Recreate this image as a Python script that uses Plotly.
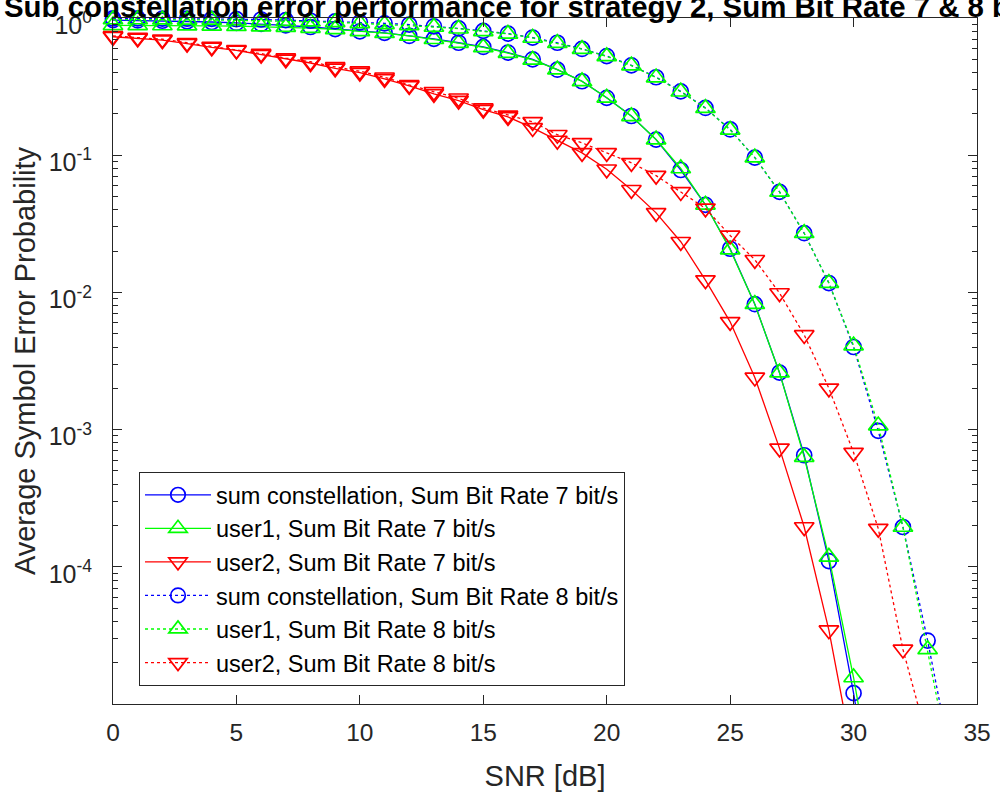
import plotly.graph_objects as go

# ---------------- data ----------------
snr7 = list(range(0, 32))
snr8 = list(range(0, 35))

sum7 = [0.965, 0.96, 0.955, 0.945, 0.935, 0.92, 0.905, 0.885, 0.86, 0.83,
        0.80, 0.78, 0.74, 0.705, 0.66, 0.615, 0.56, 0.50, 0.42, 0.346,
        0.262, 0.193, 0.13, 0.078, 0.0435, 0.0208, 0.0082, 0.0026, 0.00065, 1.1e-4,
        1.2e-5, 1.0e-6]
user1_7 = [0.885, 0.885, 0.882, 0.88, 0.877, 0.872, 0.866, 0.858, 0.845, 0.826,
           0.80, 0.775, 0.74, 0.70, 0.657, 0.61, 0.555, 0.495, 0.42, 0.345,
           0.262, 0.192, 0.13, 0.08, 0.0435, 0.0205, 0.0082, 0.0026, 0.00063, 1.18e-4,
           1.56e-5, 1.5e-6]
user2_7 = [0.73, 0.71, 0.69, 0.65, 0.61, 0.58, 0.54, 0.50, 0.47, 0.43,
           0.40, 0.36, 0.32, 0.28, 0.25, 0.215, 0.19, 0.158, 0.128, 0.104,
           0.079, 0.056, 0.038, 0.0234, 0.0123, 0.0061, 0.0024, 7.3e-4, 1.95e-4, 3.45e-5,
           3.9e-6, 3.0e-7]

sum8 = [0.995, 0.993, 0.99, 0.988, 0.985, 0.98, 0.975, 0.965, 0.955, 0.945,
        0.93, 0.915, 0.895, 0.87, 0.84, 0.805, 0.77, 0.72, 0.66, 0.595,
        0.528, 0.452, 0.37, 0.292, 0.221, 0.154, 0.096, 0.054, 0.027, 0.0117,
        0.0040, 0.00098, 1.95e-4, 2.9e-5, 3.5e-6]
user1_8 = [0.975, 0.975, 0.972, 0.97, 0.968, 0.962, 0.955, 0.948, 0.94, 0.93,
           0.915, 0.90, 0.885, 0.86, 0.835, 0.80, 0.765, 0.715, 0.655, 0.593,
           0.525, 0.45, 0.368, 0.29, 0.22, 0.153, 0.096, 0.054, 0.027, 0.0117,
           0.0041, 0.00107, 1.95e-4, 2.5e-5, 3.0e-6]
user2_8 = [0.74, 0.72, 0.70, 0.66, 0.62, 0.585, 0.55, 0.51, 0.48, 0.44,
           0.41, 0.37, 0.325, 0.29, 0.26, 0.22, 0.195, 0.175, 0.141, 0.123,
           0.104, 0.088, 0.071, 0.054, 0.041, 0.026, 0.0173, 0.0099, 0.0049, 0.0020,
           6.8e-4, 1.9e-4, 2.5e-5, 5.4e-6, 5e-7]

names = [
    "sum constellation, Sum Bit Rate 7 bit/s",
    "user1, Sum Bit Rate 7 bit/s",
    "user2, Sum Bit Rate 7 bit/s",
    "sum constellation, Sum Bit Rate 8 bit/s",
    "user1, Sum Bit Rate 8 bit/s",
    "user2, Sum Bit Rate 8 bit/s",
]
y_tick_vals = [1e-4, 1e-3, 1e-2, 1e-1, 1]
y_tick_text = ["10<sup>-4</sup>", "10<sup>-3</sup>", "10<sup>-2</sup>", "10<sup>-1</sup>", "10<sup>0</sup>"]
x_tick_vals = [0, 5, 10, 15, 20, 25, 30, 35]

title_text = "Sub constellation error performance for strategy 2, Sum Bit Rate 7 & 8 bit/s"

# ---------------- figure ----------------
FONT = "Liberation Sans, Arial, Helvetica, sans-serif"
AX = "#262626"
Y_MIN_LOG, Y_MAX_LOG = -5, 0
y_floor = 10 ** Y_MIN_LOG

series = [
    (snr7, sum7, names[0], "#0000FF", "solid", "circle-open", 15),
    (snr7, user1_7, names[1], "#00FF00", "solid", "triangle-up-open", 17),
    (snr7, user2_7, names[2], "#FF0000", "solid", "triangle-down-open", 17),
    (snr8, sum8, names[3], "#0000FF", "dot", "circle-open", 15),
    (snr8, user1_8, names[4], "#00FF00", "dot", "triangle-up-open", 17),
    (snr8, user2_8, names[5], "#FF0000", "dot", "triangle-down-open", 17),
]

fig = go.Figure()
for xs, ys, nm, col, dash, sym, sz in series:
    # markers may overhang the frame (as in the original), but points below the
    # axis floor get no marker; the line itself is clipped by the plot area
    sizes = [sz if v >= y_floor else 0 for v in ys]
    fig.add_trace(go.Scatter(
        x=xs, y=ys, name=nm, mode="lines+markers", cliponaxis=False,
        line=dict(color=col, width=1.3, dash=dash),
        marker=dict(symbol=sym, size=sizes, opacity=1, color=col,
                    line=dict(color=col, width=1.7)),
    ))

fig.update_layout(
    width=1000, height=792,
    margin=dict(l=113, r=23, t=18, b=88, autoexpand=False),
    paper_bgcolor="white", plot_bgcolor="white",
    font=dict(family=FONT, color=AX, size=24),
    showlegend=True,
    legend=dict(
        x=26 / 864, y=1 - (472 - 18) / 686, xanchor="left", yanchor="top",
        bgcolor="white", bordercolor=AX, borderwidth=1,
        font=dict(family=FONT, size=23.5, color="black"),
        itemwidth=66, tracegroupgap=0,
    ),
    annotations=[dict(
        text="<b>" + title_text + "</b>",
        xref="paper", yref="paper",
        x=-111 / 864, y=1 + (18 - 7) / 686,
        xanchor="left", yanchor="middle", showarrow=False,
        font=dict(family=FONT, size=29.4, color="black"),
    )],
)

fig.update_xaxes(
    range=[0, 35], tickvals=x_tick_vals, automargin=False,
    showgrid=False, zeroline=False,
    showline=True, linecolor=AX, linewidth=1, mirror="ticks",
    ticks="inside", ticklen=9, tickwidth=1, tickcolor=AX,
    tickfont=dict(family=FONT, size=24.5, color=AX),
    ticklabelstandoff=7,
    title=dict(text="SNR [dB]", font=dict(family=FONT, size=29, color=AX), standoff=21),
)
fig.update_yaxes(
    type="log", range=[Y_MIN_LOG, Y_MAX_LOG], automargin=False,
    tickvals=y_tick_vals, ticktext=y_tick_text,
    showgrid=False, zeroline=False,
    showline=True, linecolor=AX, linewidth=1, mirror="ticks",
    ticks="inside", ticklen=9, tickwidth=1, tickcolor=AX,
    tickfont=dict(family=FONT, size=25, color=AX),
    ticklabelstandoff=15, ticklabelshift=7,
    minor=dict(ticks="inside", ticklen=5, tickcolor=AX, dtick="D1", showgrid=False),
    title=dict(text="Average Symbol Error Probability", font=dict(family=FONT, size=29, color=AX), standoff=4),
)

fig.write_html("out.html", config={"displayModeBar": False},
               post_script="document.body.style.margin='0';")
